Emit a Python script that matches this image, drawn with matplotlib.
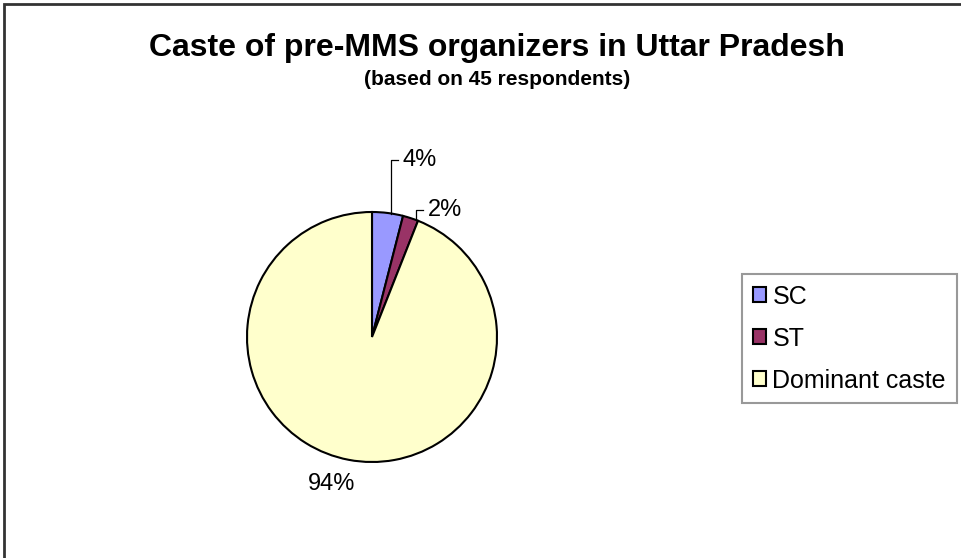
import numpy as np
import matplotlib
matplotlib.use('Agg')
import matplotlib.pyplot as plt
from matplotlib.patches import Rectangle

plt.rcParams['font.family'] = ['Liberation Sans', 'DejaVu Sans']

# data
categories = ['SC', 'ST', 'Dominant caste']
shares = [4, 2, 94]   # percent of 45 respondents
colors = ['#9999FF', '#993366', '#FFFFCC']
title = 'Caste of pre-MMS organizers in Uttar Pradesh'
subtitle = '(based on 45 respondents)'

W, H = 961, 558
fig = plt.figure(figsize=(W / 100, H / 100), dpi=100)
ax = fig.add_axes([0, 0, 1, 1])

# pie in pixel coords (y measured up from bottom)
cx, cy, R = 372, H - 337, 125
wedges, _ = ax.pie(shares, colors=colors, startangle=90, counterclock=False,
                   center=(cx, cy), radius=R,
                   wedgeprops=dict(edgecolor='black', linewidth=1.5))
ax.set_xlim(0, W)
ax.set_ylim(0, H)
ax.set_aspect('equal')
ax.axis('off')

# labels with leader lines for the small slices
elbow_y = [H - 160, H - 210]
for i, w in enumerate(wedges):
    mid = np.deg2rad((w.theta1 + w.theta2) / 2)
    px, py = cx + R * np.cos(mid), cy + R * np.sin(mid)
    lab = '%d%%' % shares[i]
    if i < 2:
        ey = elbow_y[i]
        lx = px + 3 + 2 * i
        ax.plot([lx, lx, lx + 7], [py - 1, ey, ey], color='black', lw=0.9)
        ax.text(lx + 12, ey, lab, fontsize=17, ha='left', va='center')
    else:
        ax.text(cx + 1.2 * R * np.cos(mid) - 12, cy + 1.2 * R * np.sin(mid), lab,
                fontsize=17, ha='center', va='center')

# titles
fig.text(497 / W, 1 - 56 / H, title, fontsize=23, fontweight='bold',
         ha='center', va='baseline')
fig.text(497 / W, 1 - 85 / H, subtitle, fontsize=15, fontweight='bold',
         ha='center', va='baseline')

# chart border (right/bottom edges fall outside the picture)
fig.patches.append(Rectangle((4 / W, -0.1), 1.2, 1 - 3.5 / H + 0.1,
                             transform=fig.transFigure, fill=False,
                             edgecolor='#333333', linewidth=2))

leg = ax.legend(wedges, categories, loc='upper left',
                bbox_to_anchor=(742 / W, 1 - 274 / H), bbox_transform=fig.transFigure,
                fontsize=18, frameon=True, fancybox=False, shadow=False,
                handlelength=0.55, handleheight=0.55, handletextpad=0.25,
                labelspacing=0.72, borderpad=0.42, borderaxespad=0)
leg.get_frame().set_edgecolor('#808080')
leg.get_frame().set_linewidth(1.5)

fig.savefig('out.png', dpi=100, facecolor='white')
